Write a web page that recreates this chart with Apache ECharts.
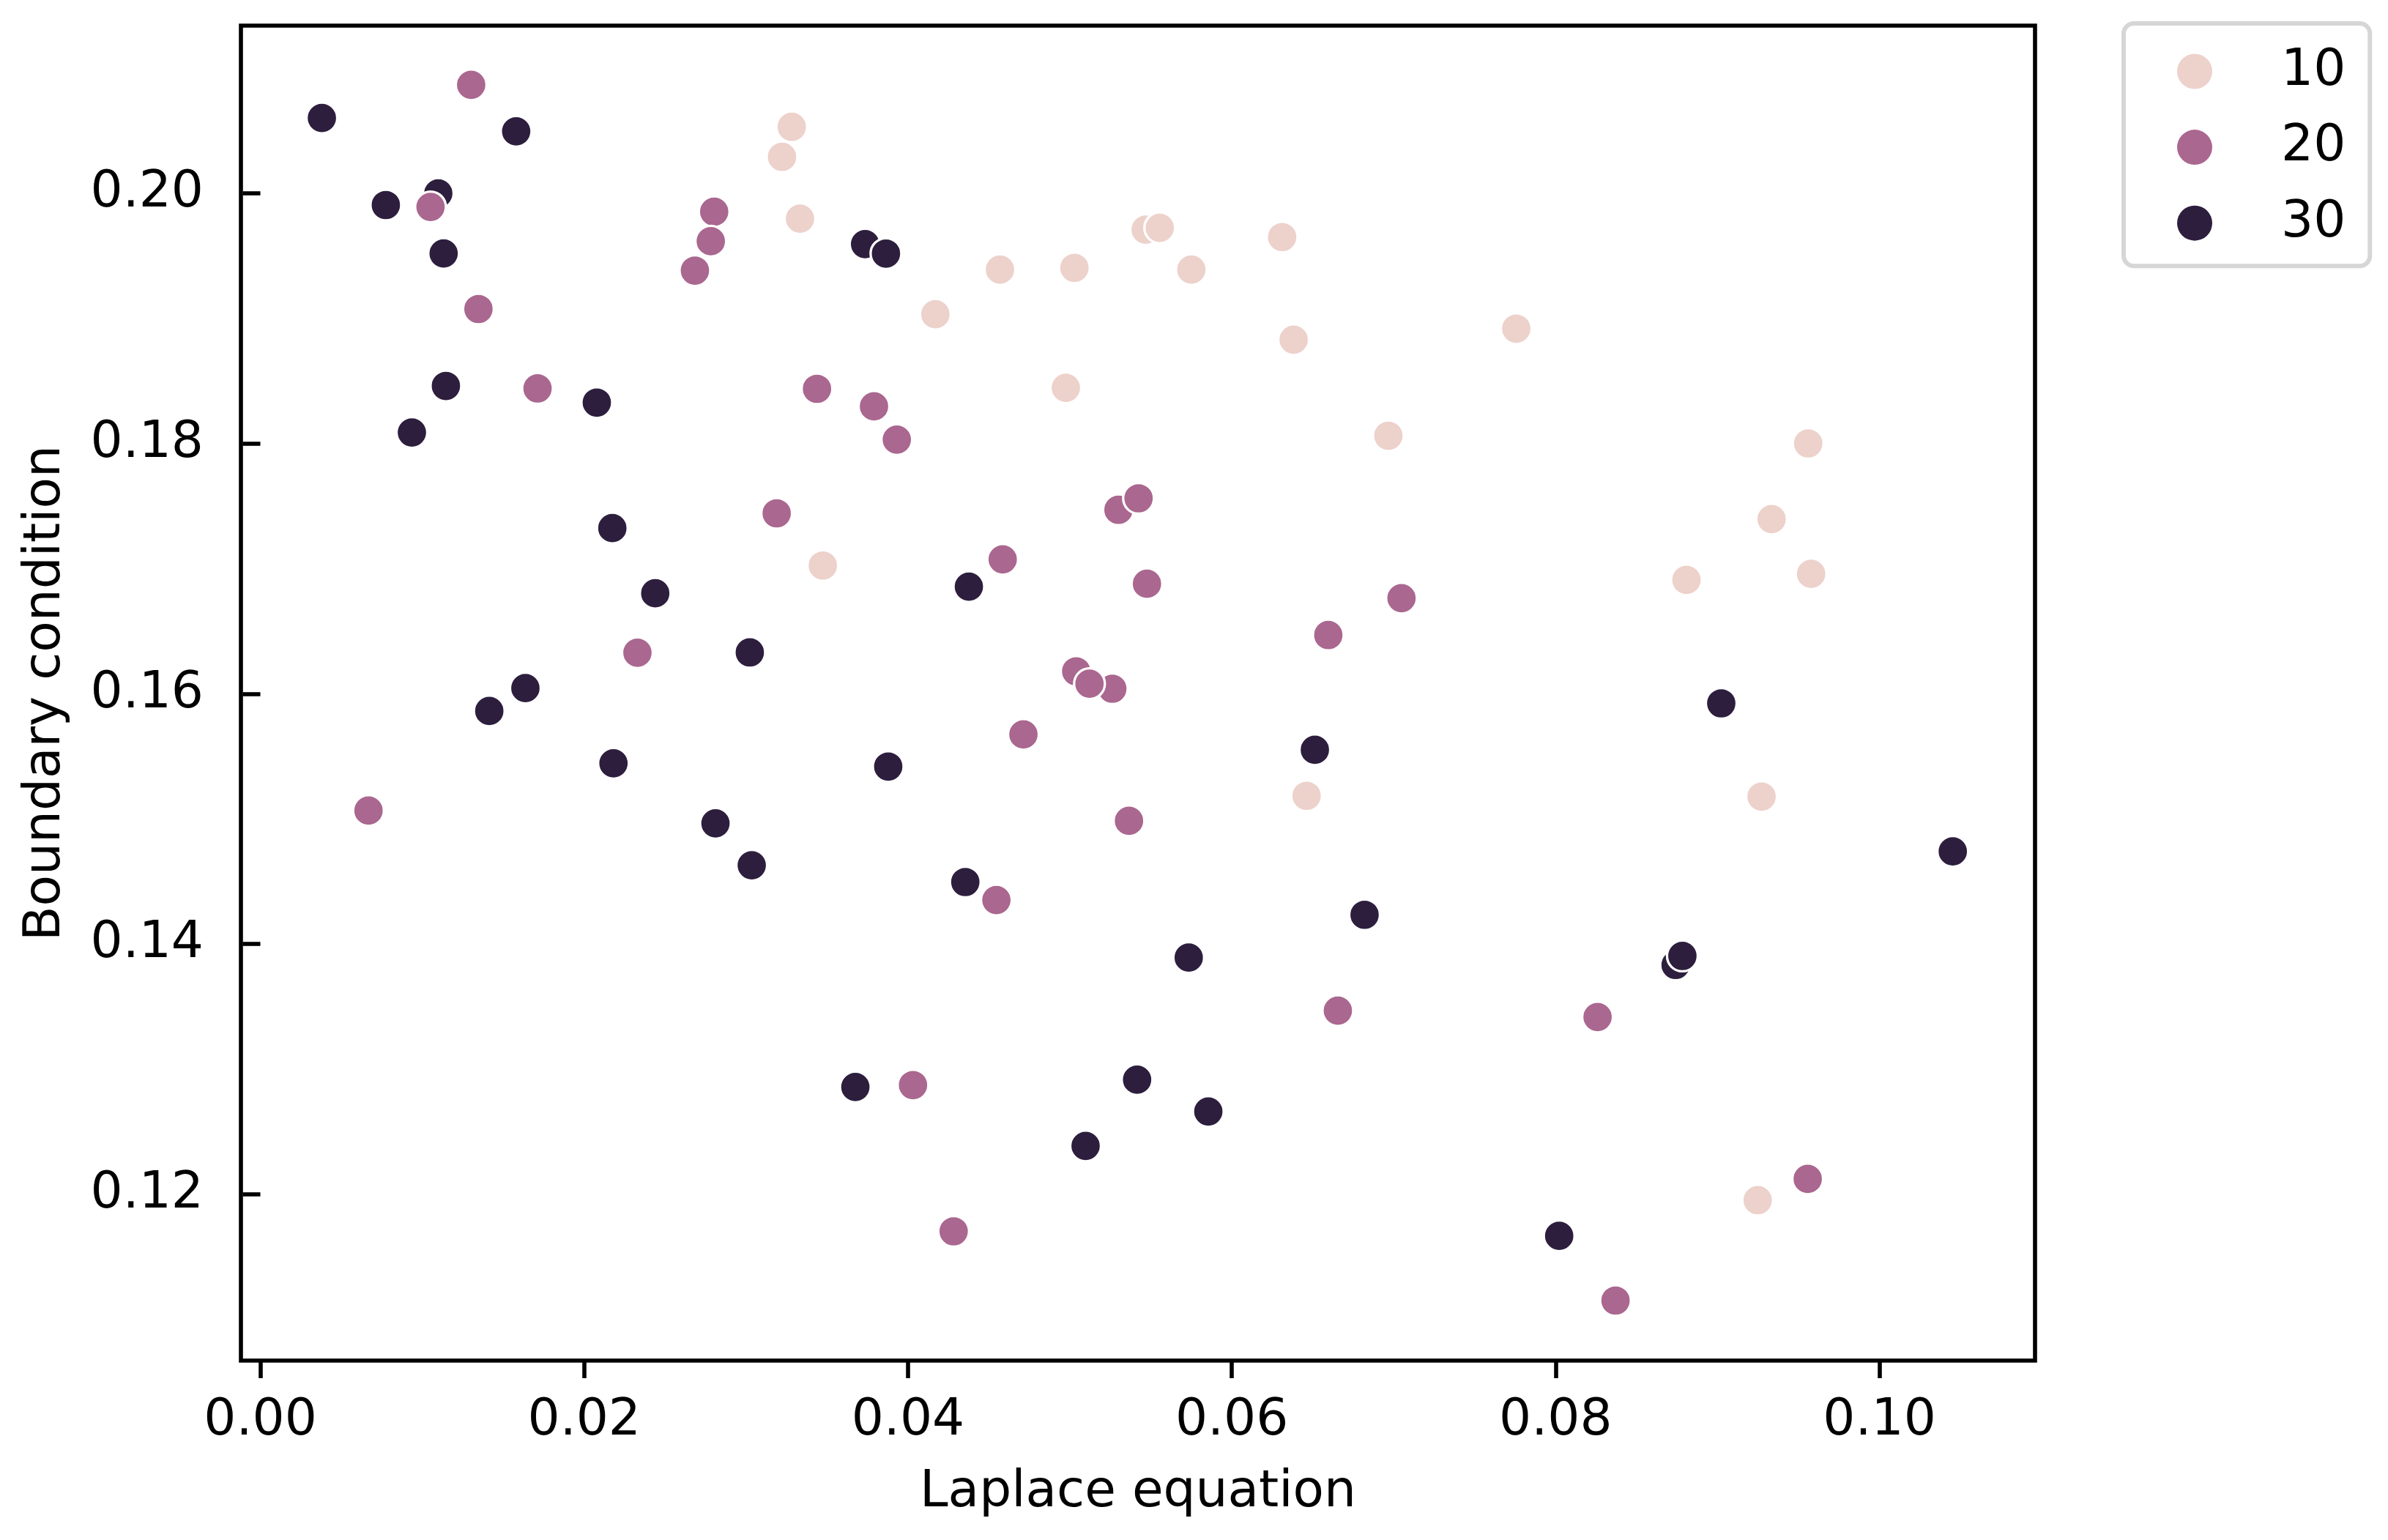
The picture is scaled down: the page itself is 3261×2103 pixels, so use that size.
<!DOCTYPE html>
<html>
<head>
<meta charset="utf-8">
<script src="https://cdn.jsdelivr.net/npm/echarts@6/dist/echarts.min.js"></script>
<style>
html,body{margin:0;padding:0;background:#fff;}
#chart{width:3261px;height:2103px;}
</style>
</head>
<body>
<div id="chart"></div>
<script>
// ---- data ----
const hueLabels = ['10', '20', '30'];
const hueColors = ['#EDD1CB', '#AA678F', '#2D1E3E'];

const x10 = [0.03282, 0.03222, 0.03333, 0.04169, 0.04568, 0.05028, 0.05468, 0.05555, 0.05750, 0.06311, 0.06382, 0.07757, 0.04975, 0.06967, 0.09560, 0.09334, 0.09578, 0.08808, 0.03474, 0.06462, 0.09272, 0.09248];
const y10 = [0.20532, 0.20292, 0.19798, 0.19034, 0.19391, 0.19405, 0.19710, 0.19725, 0.19391, 0.19651, 0.18831, 0.18919, 0.18446, 0.18063, 0.18002, 0.17397, 0.16959, 0.16911, 0.17026, 0.15185, 0.15179, 0.11953];

const x20 = [0.01302, 0.01051, 0.02803, 0.02782, 0.02684, 0.01347, 0.01712, 0.03438, 0.03790, 0.03931, 0.03189, 0.05300, 0.05424, 0.04585, 0.05476, 0.07048, 0.06596, 0.02329, 0.05039, 0.05262, 0.05121, 0.04713, 0.00668, 0.05365, 0.04546, 0.06655, 0.08259, 0.04031, 0.09557, 0.04282, 0.08370];
const y20 = [0.20868, 0.19892, 0.19854, 0.19618, 0.19383, 0.19076, 0.18441, 0.18438, 0.18298, 0.18032, 0.17443, 0.17471, 0.17563, 0.17075, 0.16880, 0.16765, 0.16470, 0.16329, 0.16180, 0.16041, 0.16081, 0.15676, 0.15067, 0.14985, 0.14352, 0.13468, 0.13417, 0.12873, 0.12123, 0.11704, 0.11151];

const x30 = [0.00380, 0.00775, 0.01099, 0.01580, 0.01132, 0.01146, 0.00936, 0.02078, 0.03735, 0.03864, 0.02174, 0.02439, 0.04376, 0.03023, 0.01637, 0.01414, 0.02181, 0.03878, 0.02811, 0.03035, 0.04354, 0.06513, 0.06820, 0.05734, 0.08741, 0.08783, 0.09023, 0.10453, 0.03675, 0.05415, 0.05855, 0.05097, 0.08022];
const y30 = [0.20603, 0.19907, 0.20000, 0.20496, 0.19520, 0.18461, 0.18089, 0.18328, 0.19595, 0.19519, 0.17325, 0.16804, 0.16857, 0.16331, 0.16046, 0.15863, 0.15445, 0.15419, 0.14965, 0.14630, 0.14496, 0.15553, 0.14234, 0.13892, 0.13833, 0.13905, 0.15924, 0.14741, 0.12858, 0.12916, 0.12662, 0.12387, 0.11668];

const xTicks = [0.00, 0.02, 0.04, 0.06, 0.08, 0.10];
const yTicks = [0.12, 0.14, 0.16, 0.18, 0.20];

const xName = 'Laplace equation';
const yName = 'Boundary condition';

// ---- chart ----
const FONT = 'DejaVu Sans';
const FS = 69.4;
function zip(xs, ys) { return xs.map((v, i) => [v, ys[i]]); }

const groups = [
  { name: hueLabels[2], color: hueColors[2], data: zip(x30, y30) },
  { name: hueLabels[1], color: hueColors[1], data: zip(x20, y20) },
  { name: hueLabels[0], color: hueColors[0], data: zip(x10, y10) }
];

const chart = echarts.init(document.getElementById('chart'), null, { renderer: 'canvas' });

const axisCommon = {
  type: 'value',
  nameLocation: 'middle',
  nameTextStyle: { fontFamily: FONT, fontSize: FS, color: '#000' },
  axisLine: { show: false },
  splitLine: { show: false },
  axisTick: { show: true, inside: false, length: 24, lineStyle: { color: '#000', width: 5.6 } },
  axisLabel: { fontFamily: FONT, fontSize: FS, color: '#000', formatter: v => v.toFixed(2) }
};

chart.setOption({
  animation: false,
  backgroundColor: '#fff',
  grid: {
    left: 329, right: 482, top: 35, bottom: 245,
    show: true, borderColor: '#000', borderWidth: 5.6, backgroundColor: 'transparent',
    containLabel: false
  },
  xAxis: Object.assign({}, axisCommon, {
    min: -0.0012, max: 0.10961,
    name: xName, nameGap: 146,
    axisTick: Object.assign({}, axisCommon.axisTick, { customValues: xTicks }),
    axisLabel: Object.assign({}, axisCommon.axisLabel, { customValues: xTicks, margin: 48 })
  }),
  yAxis: Object.assign({}, axisCommon, {
    min: 0.10671, max: 0.21341,
    name: yName, nameGap: 232, nameRotate: 90,
    axisTick: Object.assign({}, axisCommon.axisTick, { customValues: yTicks }),
    axisLabel: Object.assign({}, axisCommon.axisLabel, { customValues: yTicks, margin: 51 })
  }),
  legend: {
    data: hueLabels.map((n, i) => ({ name: n, icon: 'circle', itemStyle: { color: hueColors[i], borderWidth: 0 } })),
    orient: 'vertical',
    left: 2900, top: 32,
    padding: [31, 33, 24, 73],
    itemWidth: 48, itemHeight: 48, itemGap: 34.6,
    borderColor: '#d6d6d6', borderWidth: 6, borderRadius: 14,
    backgroundColor: '#fff',
    selectedMode: false,
    textStyle: { fontFamily: FONT, fontSize: FS, color: '#000', padding: [0, 0, 0, 89] }
  },
  series: groups.map(g => ({
    type: 'scatter',
    name: g.name,
    data: g.data,
    symbol: 'circle',
    symbolSize: 42,
    itemStyle: { color: g.color, borderColor: '#fff', borderWidth: 3.3, opacity: 1 },
    emphasis: { disabled: true }
  }))
});
</script>
</body>
</html>
